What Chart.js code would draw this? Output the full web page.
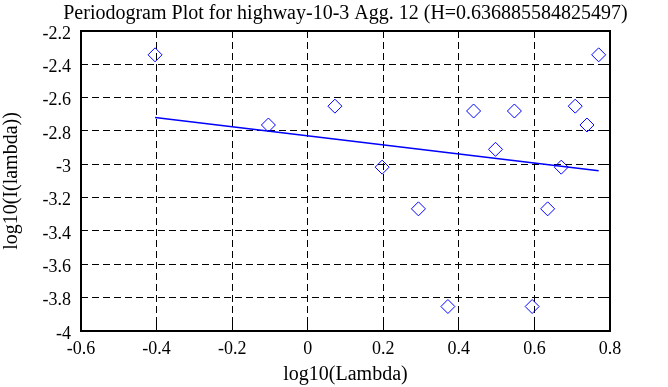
<!DOCTYPE html>
<html>
<head>
<meta charset="utf-8">
<script src="https://cdn.jsdelivr.net/npm/chart.js@4/dist/chart.umd.min.js"></script>
<style>
  html, body { margin: 0; padding: 0; background: #fff; }
  canvas { display: block; }
</style>
</head>
<body>
<canvas id="periodogramChart" width="668" height="387"></canvas>
<script>
// periodogram points
const logLambda = [-0.404, -0.104, 0.072, 0.197, 0.293, 0.371, 0.439, 0.497, 0.547, 0.594, 0.635, 0.671, 0.708, 0.739, 0.770];
const logPower = [-2.343, -2.764, -2.651, -3.017, -3.267, -3.853, -2.680, -2.910, -2.680, -3.853, -3.267, -3.017, -2.651, -2.764, -2.343];

// least squares fit line ends
const fitX = [-0.404, 0.770];
const fitY = [-2.719, -3.039];

const xTicks = [-0.6, -0.4, -0.2, 0, 0.2, 0.4, 0.6, 0.8];
const yTicks = [-4, -3.8, -3.6, -3.4, -3.2, -3, -2.8, -2.6, -2.4, -2.2];

const titleText = 'Periodogram Plot for highway-10-3 Agg. 12 (H=0.636885584825497)';

const serif = "'Liberation Serif', 'Times New Roman', serif";
const fmt = v => String(Math.round(v * 10) / 10);

const alignPx = p => Math.round(p - 0.5) + 0.5;

// box round the plot + small inward tick marks, like the original
// title is drawn here too: the built-in one squeezes it to the plot width
const frameAndTicks = {
  id: 'frameAndTicks',
  afterDatasetsDraw(chart) {
    const { ctx, chartArea: { left, top, right, bottom }, scales: { x, y } } = chart;
    ctx.save();
    ctx.strokeStyle = '#000';
    ctx.lineWidth = 1;
    ctx.setLineDash([]);
    ctx.beginPath();
    x.ticks.forEach(t => {
      const px = alignPx(x.getPixelForValue(t.value));
      ctx.moveTo(px, top); ctx.lineTo(px, top + 7);
      ctx.moveTo(px, bottom); ctx.lineTo(px, bottom - 7);
    });
    y.ticks.forEach(t => {
      const py = alignPx(y.getPixelForValue(t.value));
      ctx.moveTo(left, py); ctx.lineTo(left + 7, py);
      ctx.moveTo(right, py); ctx.lineTo(right - 7, py);
    });
    ctx.stroke();
    ctx.lineWidth = 2;
    ctx.strokeRect(left, top, right - left, bottom - top);

    ctx.fillStyle = '#000';
    ctx.font = '20px ' + serif;
    ctx.textAlign = 'center';
    ctx.textBaseline = 'alphabetic';
    ctx.fillText(titleText, (left + right) / 2, top - 12);
    ctx.restore();
  }
};

const ctx = document.getElementById('periodogramChart').getContext('2d');

const periodogramChart = new Chart(ctx, {
  type: 'scatter',
  data: {
    datasets: [{
      label: 'periodogram',
      data: logLambda.map((v, i) => ({ x: v, y: logPower[i] })),
      pointStyle: 'rectRot',
      pointRadius: 7,
      pointHoverRadius: 7,
      borderColor: '#0000ff',
      backgroundColor: 'rgba(0,0,0,0)',
      borderWidth: 1,
      showLine: false
    }, {
      label: 'fit',
      data: fitX.map((v, i) => ({ x: v, y: fitY[i] })),
      showLine: true,
      pointRadius: 0,
      borderColor: '#0000ff',
      borderWidth: 1.5,
      fill: false
    }]
  },
  options: {
    responsive: false,
    animation: false,
    devicePixelRatio: 1,
    layout: { padding: { top: 31, right: 58, bottom: 0, left: 0 } },
    plugins: {
      legend: { display: false },
      tooltip: { enabled: false },
      title: { display: false }
    },
    scales: {
      x: {
        type: 'linear',
        min: xTicks[0],
        max: xTicks[xTicks.length - 1],
        afterBuildTicks: s => { s.ticks = xTicks.map(v => ({ value: v })); },
        afterFit: s => { s.height = 56; },
        grid: { color: '#000', lineWidth: 1, drawTicks: false },
        border: { display: false, dash: [7, 4] },
        ticks: {
          color: '#000',
          padding: 7,
          maxRotation: 0,
          font: { family: serif, size: 18 },
          callback: fmt
        },
        title: {
          display: true,
          text: 'log10(Lambda)',
          color: '#000',
          font: { family: serif, size: 20 },
          padding: { top: 4, bottom: 0 }
        }
      },
      y: {
        type: 'linear',
        min: yTicks[0],
        max: yTicks[yTicks.length - 1],
        afterBuildTicks: s => { s.ticks = yTicks.map(v => ({ value: v })); },
        afterFit: s => { s.width = 81; },
        grid: { color: '#000', lineWidth: 1, drawTicks: false },
        border: { display: false, dash: [7, 4] },
        ticks: {
          color: '#000',
          padding: 10,
          labelOffset: 3,
          font: { family: serif, size: 18 },
          callback: fmt
        },
        title: {
          display: true,
          text: 'log10(I(lambda))',
          color: '#000',
          font: { family: serif, size: 20 },
          padding: { top: 0, bottom: 0 }
        }
      }
    }
  },
  plugins: [frameAndTicks]
});
</script>
</body>
</html>
